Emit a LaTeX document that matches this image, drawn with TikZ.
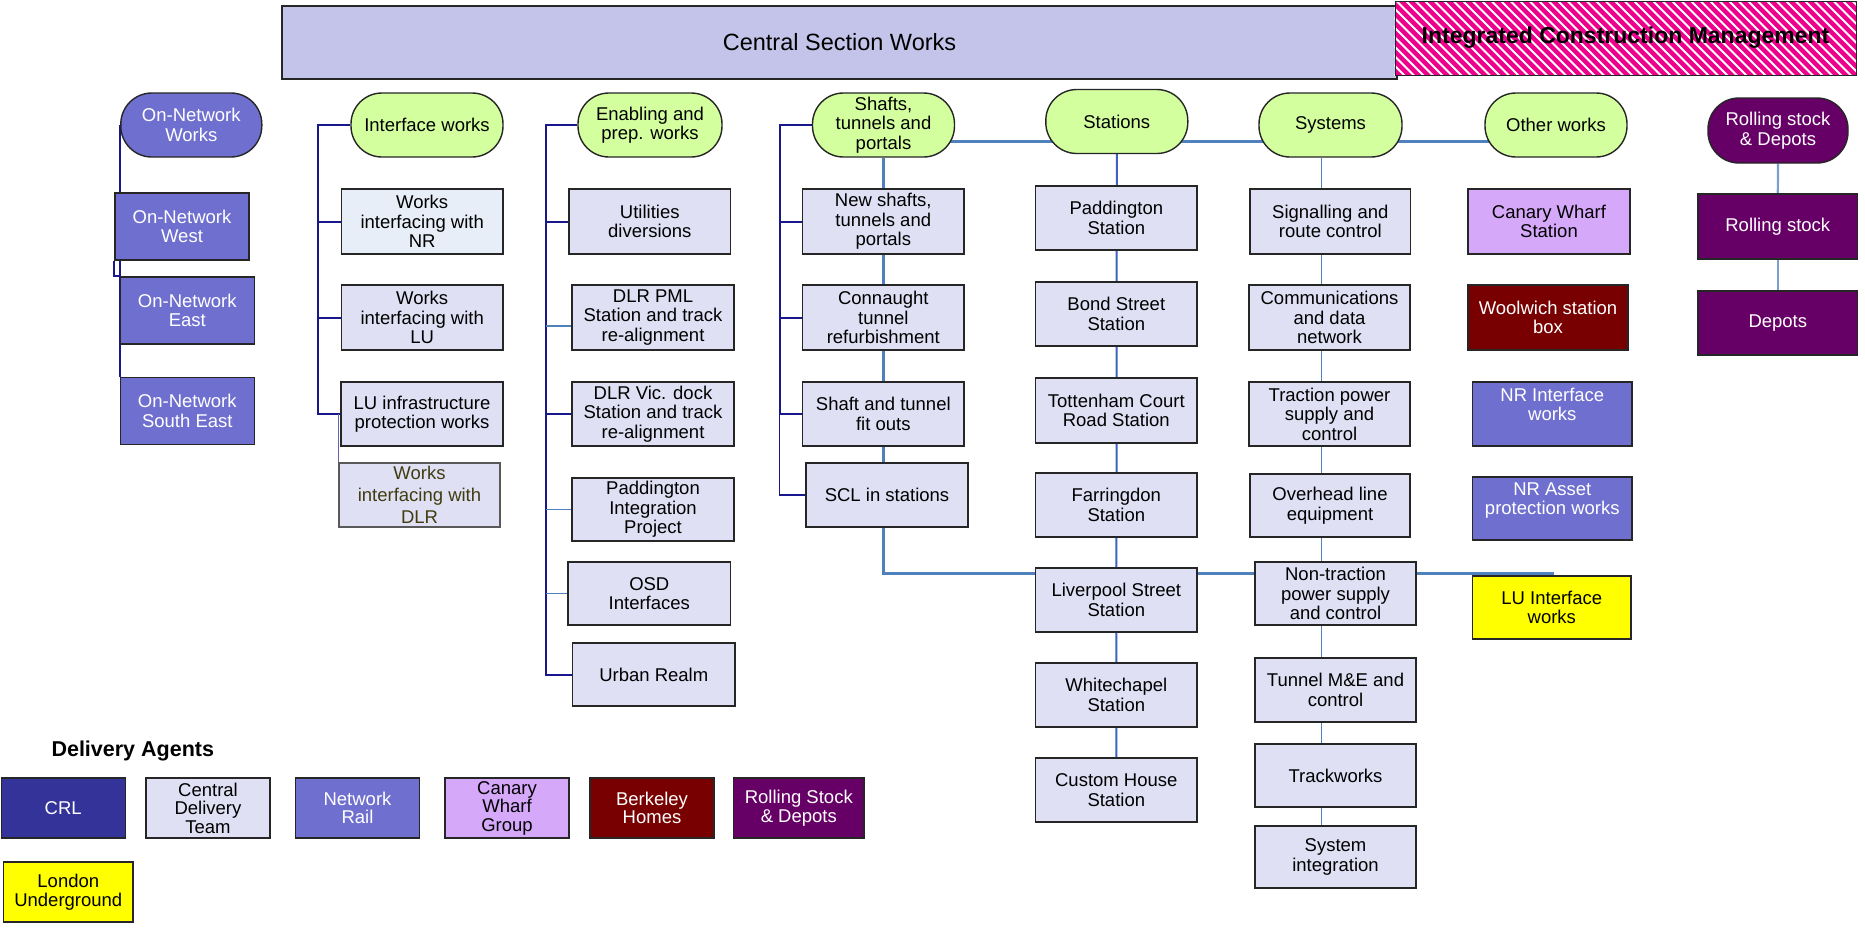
\documentclass[tikz,border=0pt]{standalone}
\usepackage{fontspec}
\setmainfont{Liberation Sans}
\usetikzlibrary{backgrounds}

\definecolor{hdrfill}{RGB}{196,196,234}
\definecolor{cdtfill}{RGB}{224,224,245}
\definecolor{palefill}{RGB}{232,238,248}
\definecolor{grnfill}{RGB}{212,255,158}
\definecolor{nrblue}{RGB}{111,111,207}
\definecolor{crlblue}{RGB}{51,51,153}
\definecolor{cwpurple}{RGB}{214,168,250}
\definecolor{bkred}{RGB}{120,0,0}
\definecolor{rsplum}{RGB}{102,0,102}
\definecolor{luyellow}{RGB}{255,255,0}
\definecolor{navyline}{RGB}{24,24,140}
\definecolor{blueline}{RGB}{79,129,189}
\definecolor{stnblue}{RGB}{60,100,190}
\definecolor{dlrline}{RGB}{100,100,170}
\definecolor{olivetext}{RGB}{64,60,16}

\tikzset{
  boxbase/.style={draw=black!85, line width=1.4pt, align=center, inner sep=1pt,
    font=\fontsize{18.5}{19.5}\selectfont},
  task/.style={boxbase, fill=cdtfill, minimum width=161pt, minimum height=64pt},
  stadium/.style={boxbase, rounded corners=31pt, fill=grnfill, minimum width=142pt, minimum height=64pt},
  agent/.style={boxbase, minimum width=124pt, minimum height=60pt, font=\fontsize{18.5}{18.5}\selectfont},
  trunk/.style={navyline, line width=2pt},
  twig/.style={blueline, line width=1.2pt},
  twigdark/.style={navyline, line width=1.2pt},
  spine/.style={blueline, line width=3pt},
}

\begin{document}
\begin{tikzpicture}[x=1pt,y=-1pt]
  \useasboundingbox (0,0) rectangle (1865,930);

  % top banners
  \node[boxbase, fill=hdrfill, minimum width=1115pt, minimum height=73pt,
    font=\fontsize{23.5}{26}\selectfont] (csw) at (839.5,42.5) {Central Section Works};
  \node[boxbase, draw=none, fill=magenta, minimum width=461pt, minimum height=74pt] (icmbg) at (1625.5,38) {};
  % white hatching
  \begin{scope}
    \clip (icmbg.south west) rectangle (icmbg.north east);
    \foreach \s in {1310,1319.5,...,1870}
      \draw[white, line width=1.8pt] (\s,0) -- (\s+80,80);
  \end{scope}
  \node[boxbase, line width=1pt, minimum width=461pt, minimum height=74pt,
    font=\bfseries\fontsize{23}{26}\selectfont] (icm) at (1625.5,38) {Integrated Construction Management};

  % group heads
  \node[stadium, fill=nrblue, text=white, minimum width=141pt] (onw) at (191.3,125) {On-Network\\Works};
  \node[stadium, minimum width=152pt] (ifw) at (427,125) {Interface works};
  \node[stadium, minimum width=144pt] (enw) at (650,125) {Enabling and\\prep. works};
  \node[stadium] (shw) at (883.5,125) {Shafts,\\tunnels and\\portals};
  \node[stadium] (stn) at (1116.8,121.5) {Stations};
  \node[stadium, minimum width=143pt] (sys) at (1330.5,125) {Systems};
  \node[stadium] (oth) at (1556,125) {Other works};
  \node[stadium, fill=rsplum, text=white, minimum width=140pt, minimum height=65pt] (rsd) at (1778,130.5) {Rolling stock\\\& Depots};

  % on-network works
  \node[task, fill=nrblue, text=white, minimum width=134pt, minimum height=67pt] (onwe) at (182,226.5) {On-Network\\West};
  \node[task, fill=nrblue, text=white, minimum width=134pt, minimum height=67pt] (one) at (187.3,310.5) {On-Network\\East};
  \node[task, fill=nrblue, text=white, minimum width=134pt, minimum height=67pt] (onse) at (187.3,410.8) {On-Network\\South East};

  % interface works
  \node[task, fill=palefill, minimum width=161.5pt, minimum height=65pt] (ifnr) at (422.2,221.5) {Works\\interfacing with\\NR};
  \node[task, minimum width=161.5pt, minimum height=65pt] (iflu) at (422.2,317.5) {Works\\interfacing with\\LU};
  \node[task, minimum width=162pt] (iflui) at (422,414) {LU infrastructure\\protection works};
  \node[task, draw=black!65, text=olivetext] (ifdlr) at (419.5,495) {Works\\[2.5pt]interfacing with\\[2.5pt]DLR};

  % enabling works
  \node[task, minimum width=161.7pt, minimum height=65pt] (util) at (649.8,221.5) {Utilities\\diversions};
  \node[task, minimum width=162pt, minimum height=65pt] (pml) at (653,317.5) {DLR PML\\Station and track\\re-alignment};
  \node[task, minimum width=162pt] (vic) at (653,414) {DLR Vic. dock\\Station and track\\re-alignment};
  \node[task, minimum width=162pt, minimum height=63pt] (pip) at (653,509.5) {Paddington\\Integration\\Project};
  \node[task, minimum width=162.7pt, minimum height=63pt] (osd) at (649.3,593.5) {OSD\\Interfaces};
  \node[task, minimum width=162.3pt, minimum height=63pt] (urb) at (653.8,674.5) {Urban Realm};

  % shafts and tunnels
  \node[task, minimum width=161.3pt, minimum height=65pt] (nsh) at (883.3,221.5) {New shafts,\\tunnels and\\portals};
  \node[task, minimum width=161.3pt, minimum height=65pt] (con) at (883.3,317.5) {Connaught\\tunnel\\refurbishment};
  \node[task, minimum width=161.3pt] (sfo) at (883.3,414) {Shaft and tunnel\\fit outs};
  \node[task, minimum width=162pt] (scl) at (887,495) {SCL in stations};

  % stations
  \node[task, minimum width=161.3pt] (pad) at (1116.3,218) {Paddington\\Station};
  \node[task, minimum width=161.3pt] (bond) at (1116.3,314) {Bond Street\\Station};
  \node[task, minimum width=161.3pt, minimum height=65pt] (tcr) at (1116.3,410.5) {Tottenham Court\\Road Station};
  \node[task, minimum width=161.3pt] (far) at (1116.3,505) {Farringdon\\Station};
  \node[task, minimum width=161.3pt] (liv) at (1116.3,600) {Liverpool Street\\Station};
  \node[task, minimum width=161.3pt] (wch) at (1116.3,695) {Whitechapel\\Station};
  \node[task, minimum width=161.3pt] (chs) at (1116.3,790) {Custom House\\Station};

  % systems
  \node[task, minimum width=160.7pt, minimum height=65pt] (sig) at (1330.3,221.5) {Signalling and\\route control};
  \node[task, minimum height=65pt] (com) at (1329.5,317.5) {Communications\\and data\\network};
  \node[task] (trp) at (1329.5,414) {Traction power\\supply and\\control};
  \node[task, minimum width=160pt, minimum height=63pt] (ohl) at (1330,505.5) {Overhead line\\equipment};
  \node[task, minimum height=63pt] (ntp) at (1335.5,593.5) {Non-traction\\power supply\\and control};
  \node[task] (tme) at (1335.5,690) {Tunnel M\&E and\\control};
  \node[task, minimum height=63pt] (trk) at (1335.5,775.5) {Trackworks};
  \node[task, minimum height=62pt] (sint) at (1335.5,857) {System\\integration};

  % other works
  \node[task, fill=cwpurple, minimum width=162pt, minimum height=65pt] (cws) at (1549,221.5) {Canary Wharf\\Station};
  \node[task, fill=bkred, text=white, minimum width=160pt, minimum height=65pt] (wsb) at (1548,317.5) {Woolwich station\\box};
  \node[task, fill=nrblue, text=white, minimum width=159.5pt] (nri) at (1552.3,414) {NR Interface\\works\\~};
  \node[task, fill=nrblue, text=white, minimum width=159.5pt, minimum height=63pt] (nra) at (1552.3,508.5) {NR Asset\\protection works\\~};
  \node[task, fill=luyellow, minimum width=158.5pt, minimum height=63pt] (lui) at (1551.8,607.5) {LU Interface\\works};

  % rolling stock
  \node[task, fill=rsplum, text=white, minimum width=159.5pt, minimum height=65pt] (rs) at (1777.8,226.5) {Rolling stock};
  \node[task, fill=rsplum, text=white, minimum width=159.5pt] (dep) at (1777.8,323) {Depots};

  % legend
  \node[anchor=base west, font=\bfseries\fontsize{21.5}{24}\selectfont] (dat) at (48,756) {Delivery Agents};
  \node[agent, fill=crlblue, text=white] (crl) at (63.2,808) {CRL};
  \node[agent, fill=cdtfill] (cdt) at (208,808) {Central\\Delivery\\Team};
  \node[agent, fill=nrblue, text=white] (nrl) at (357.5,808) {Network\\Rail};
  \node[agent, fill=cwpurple] (cwg) at (507,808) {Canary\\Wharf\\Group};
  \node[agent, fill=bkred, text=white] (bkh) at (652,808) {Berkeley\\Homes};
  \node[agent, fill=rsplum, text=white, minimum width=130.5pt] (rsl) at (798.8,808) {Rolling Stock\\\& Depots};
  \node[agent, fill=luyellow, minimum width=129.4pt] (lul) at (68.3,892) {London\\Underground};

  \begin{scope}[on background layer]
    % on-network links
    \draw[trunk] (onw.west) -- (onw.west |- onse.north);
    \draw[trunk] (onw.west |- one.north) -| (onwe.south west);

    % interface links
    \coordinate (ift) at (317.7,125);
    \draw[trunk] (ifw.west) -- (ift) |- (iflui.west);
    \foreach \n in {ifnr,iflu}
      \draw[trunk] (ift |- \n.west) -- (\n.west);
    \draw[dlrline, line width=1.2pt] (ifdlr.north west) -- (ifdlr.north west |- iflui.west);

    % enabling links
    \coordinate (ent) at (545.5,125);
    \draw[trunk] (enw.west) -- (ent) |- (urb.west);
    \foreach \n in {util,vic}
      \draw[trunk] (ent |- \n.west) -- (\n.west);
    \draw[twig] (pml.west) ++(0,8.5) coordinate (pmlj) -- (ent |- pmlj);
    \foreach \n in {pip,osd}
      \draw[twig] (ent |- \n.west) -- (\n.west);

    % shafts links
    \coordinate (sht) at (779.5,125);
    \draw[trunk] (shw.west) -- (sht) |- (sfo.west);
    \foreach \n in {nsh,con}
      \draw[trunk] (sht |- \n.west) -- (\n.west);
    \draw[twigdark] (sht |- sfo.west) |- (scl.west);

    % blue spines
    \coordinate (hend) at (1557,141.5);
    \coordinate (lend) at (1554,573);
    \draw[spine] (shw.south |- hend) -- (hend);
    \draw[spine] (shw.south) |- (lend);
    \draw[stnblue, line width=2pt] (stn.south) -- (chs.north);
    \coordinate (syt) at (1321.7,0);
    \draw[twig] (sys.south -| syt) -- (sint.north -| syt);
    \draw[blueline!75, line width=2.2pt] (rsd.south) -- (rs.north);
    \draw[blueline!75, line width=2.2pt] (rs.south) -- (dep.north);
  \end{scope}
\end{tikzpicture}
\end{document}
